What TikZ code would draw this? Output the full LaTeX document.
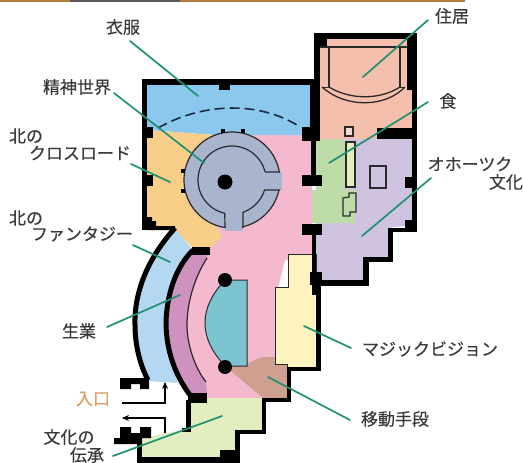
\documentclass[tikz,border=0pt]{standalone}
\usepackage{fontspec}
\setmainfont[FakeBold=0.25]{Noto Sans CJK JP}
\usetikzlibrary{arrows.meta}
\definecolor{cBlue}{HTML}{8BC8EE}
\definecolor{cLight}{HTML}{B5D8F2}
\definecolor{cOrange}{HTML}{F8CE88}
\definecolor{cPink}{HTML}{F4B8CF}
\definecolor{cSalmon}{HTML}{F5BFAE}
\definecolor{cGreen}{HTML}{BEDCA8}
\definecolor{cPurple}{HTML}{CFC3E0}
\definecolor{cYellow}{HTML}{FDF3BE}
\definecolor{cTaupe}{HTML}{CFA090}
\definecolor{cCream}{HTML}{E3EEC0}
\definecolor{cCres}{HTML}{CF92BF}
\definecolor{cTeal}{HTML}{7CC4D0}
\definecolor{cGrey}{HTML}{A9B4CF}
\definecolor{cLead}{HTML}{1F9272}
\definecolor{cInk}{HTML}{2A2A2A}
\definecolor{cText}{HTML}{3A3A3A}
\definecolor{cDash}{HTML}{1B2A40}
\definecolor{cEntry}{HTML}{D9A066}
\definecolor{cStrip}{HTML}{B07A40}
\tikzset{
  wall/.style={fill=black},
  curvewall/.style={draw=black,line width=5pt},
  thinline/.style={draw=cInk,line width=1.2pt},
  leader/.style={draw=cLead,line width=1.7pt,line cap=round},
  lab/.style={inner sep=0pt,text=cText,font=\fontsize{17}{20}\selectfont},
  flow/.style={draw=black,line width=1.3pt,-{Stealth[length=7pt,width=6pt]}}
}
\begin{document}
\begin{tikzpicture}[x=1pt,y=-1pt]
\useasboundingbox (0,0) rectangle (523,463);
\fill[white] (0,0) rectangle (523,463);
% top strip
\fill[cStrip] (0,0) rectangle (70,2);
\fill[gray!70!black] (70,0) rectangle (180,2);
\fill[cStrip] (180,0) rectangle (465,2);
% colour fields
\fill[cPink] (200,135) -- (312,135) -- (312,260) -- (285,260) -- (275,300) -- (275,357) -- (262,398) -- (207,398) -- (207,258) .. controls (193,280) and (187,305) .. (187,325) .. controls (187,345) and (195,368) .. (206,382) -- (207,398) -- (207,258) -- cycle;
\fill[cBlue] (147,84) -- (311,84) -- (311,135) -- (215,135) -- (147,130) -- cycle;
\fill[cOrange] (147,130) -- (215,135) -- (200,200) -- (222,237) -- (210,248) -- (193,248) -- (175,230) -- (147,226) -- cycle;
\fill[cSalmon] (320,39) -- (412,39) -- (412,130) -- (377,130) -- (377,139) -- (320,139) -- cycle;
\fill[cPurple] (316,139) -- (412,139) -- (412,225) -- (388,228) -- (388,257) -- (363,257) -- (363,280) -- (316,280) -- cycle;
\fill[cGreen] (316,139) -- (345,139) -- (345,190) -- (355,190) -- (355,223) -- (312,223) -- (312,190) -- (316,190) -- cycle;
\fill[cLight] (175,229) .. controls (148,258) and (134,292) .. (135,325) .. controls (135,345) and (140,365) .. (148,381) -- (178,383) .. controls (175,375) and (166,350) .. (166,322) .. controls (167,295) and (175,268) .. (193,250) -- cycle;
\fill[cCres] (193,250) .. controls (175,268) and (167,295) .. (166,322) .. controls (166,350) and (175,375) .. (190,393) -- (207,393) -- (206,382) .. controls (195,368) and (187,345) .. (187,325) .. controls (187,305) and (193,280) .. (207,258) -- (207,252) -- cycle;
\fill[cTaupe] (226,367) -- (246,364) -- (262,357) -- (275,357) -- (275,364) -- (287,364) -- (287,400) -- (262,400) -- (262,397) -- cycle;
\fill[cCream] (142,438) -- (182,430) -- (191,430) -- (191,401) -- (207,398) -- (262,398) -- (262,430) -- (237,430) -- (237,457) -- (142,458) -- cycle;
% yellow room
\filldraw[fill=cYellow,draw=cInk,line width=1pt] (288,254) -- (316,254) -- (316,367) -- (287,367) -- (287,364) -- (275,364) -- (275,287) -- (288,287) -- cycle;
% crescent inner line
\draw[thinline] (207,258) .. controls (193,280) and (187,305) .. (187,325) .. controls (187,345) and (195,368) .. (206,382);
% dashed arc
\draw[draw=cDash,line width=1.6pt,dash pattern=on 10pt off 5pt] (158,128) .. controls (200,104) and (255,100) .. (297,125);
% circle hall
\fill[cGrey] (232,180) circle[radius=48];
\fill[cGrey] (225,215) rectangle (243,231);
\fill[cGrey] (262,172) rectangle (282,190);
\draw[thinline] plot[domain=9.7:261.5,samples=60] ({232+48*cos(\x)},{180-48*sin(\x)});
\draw[thinline] plot[domain=-78:-12,samples=30] ({232+48*cos(\x)},{180-48*sin(\x)});
\draw[thinline] (280,172) -- (265,172) plot[domain=14:257.7,samples=60] ({232+34*cos(\x)},{180-34*sin(\x)}) -- (225,228);
\draw[thinline] (243,228) -- (243,212) plot[domain=-70.5:-17,samples=20] ({232+34*cos(\x)},{180-34*sin(\x)}) -- (280,190);
\fill[black] (225,182) circle[radius=7.5];
% little pillars on the hall
\fill[wall] (221,129) rectangle (225,133);
\fill[wall] (241,129) rectangle (245,133);
\fill[wall] (181,169) rectangle (185,173);
\fill[wall] (181,189) rectangle (185,193);
% teal room
\filldraw[fill=cTeal,draw=cInk,line width=1pt] (225,280) -- (247,280) -- (247,366) -- (225,366) .. controls (212,352) and (205,338) .. (205,323) .. controls (205,308) and (212,294) .. (225,280) -- cycle;
\fill[black] (225,280) circle[radius=7];
\fill[black] (225,367) circle[radius=7];
% walls: main hall
\fill[wall] (142,79) rectangle (315,85);
\fill[wall] (142,79) rectangle (147,230);
\fill[wall] (219,85) rectangle (230,90);
\fill[wall] (147,127) rectangle (153,138);
\fill[wall] (147,175) rectangle (153,186);
\fill[wall] (147,217) -- (152,217) -- (152,221) -- (156,221) -- (156,226) -- (175,226) -- (175,230) -- (147,230) -- cycle;
% walls: north-east block
\fill[wall] (314,33) rectangle (417,39);
\fill[wall] (314,33) rectangle (327,47);
\fill[wall] (314,33) rectangle (320,130);
\fill[wall] (310,80) rectangle (320,130);
\fill[wall] (302,127) rectangle (320,141);
\fill[wall] (311,135) rectangle (316,180);
\fill[wall] (302,175) rectangle (322,186);
\fill[wall] (407,33) rectangle (417,90);
\fill[wall] (412,33) rectangle (417,232);
\fill[wall] (377,128) rectangle (417,139);
\fill[wall] (405,177) rectangle (413,188);
\fill[wall] (405,220) rectangle (417,232);
\fill[wall] (388,228) rectangle (417,232);
\fill[wall] (388,228) rectangle (393,262);
\fill[wall] (363,257) rectangle (393,262);
\fill[wall] (363,257) rectangle (369,286);
\fill[wall] (312,280) rectangle (369,286);
\fill[wall] (302,224) rectangle (322,235);
\fill[wall] (312,224) rectangle (316,295);
\fill[wall] (310,272) rectangle (322,285);
% walls: yellow and cream rooms
\fill[wall] (316,285) rectangle (321,371);
\fill[wall] (287,367) rectangle (321,371);
\fill[wall] (287,367) rectangle (291,402);
\fill[wall] (262,398) rectangle (291,402);
\fill[wall] (262,398) rectangle (266,434);
\fill[wall] (235,430) rectangle (266,434);
\fill[wall] (235,430) rectangle (240,457);
\fill[wall] (220,450) rectangle (240,457);
\fill[wall] (137,457) rectangle (240,463);
\fill[wall] (137,438) rectangle (142,463);
\fill[wall] (188,393) rectangle (207,403);
\fill[wall] (186,400) rectangle (191,432);
\fill[wall] (182,428) rectangle (191,432);
% walls: curved west side
\draw[curvewall] (175,228) .. controls (148,258) and (134,292) .. (135,325) .. controls (135,345) and (140,365) .. (148,380);
\draw[curvewall] (193,250) .. controls (175,268) and (167,295) .. (166,322) .. controls (166,350) and (175,375) .. (190,395);
\fill[wall] (192,247) rectangle (210,255);
% entrance blocks
\fill[wall] (120,378) -- (149,378) -- (149,389) -- (140,389) -- (140,384) -- (131,384) -- (131,389) -- (120,389) -- cycle;
\fill[wall] (120,427) -- (131,427) -- (131,433) -- (140,433) -- (140,427) -- (151,427) -- (151,438) -- (142,438) -- (142,444) -- (114,444) -- (114,438) -- (120,438) -- cycle;
% entrance flow arrows
\coordinate (inA) at (122,403);
\coordinate (inB) at (165,403);
\coordinate (inC) at (165,382);
\coordinate (outA) at (165,433);
\coordinate (outB) at (165,418);
\coordinate (outC) at (122,418);
\draw[flow] (inA) -- (inB) -- (inC);
\draw[flow] (outA) -- (outB) -- (outC);
% inner outlines in the north-east block
\draw[thinline,line width=1.3pt] (320,47) -- (407,47);
\draw[thinline,line width=1.3pt] (329,47) -- (329,87);
\draw[thinline,line width=1.3pt] (400,47) -- (400,87);
\draw[thinline,line width=1.3pt] (322,87) .. controls (345,108) and (385,108) .. (405,87);
\draw[thinline,line width=1.3pt] (329,87) .. controls (350,100) and (380,100) .. (400,87);
\draw[thinline,line width=1pt] (322,87) -- (329,87) (400,87) -- (405,87);
\draw[thinline,fill=cSalmon!60!white] (345,127) rectangle (353,136);
\draw[thinline,fill=cCream] (346,142) rectangle (355,187);
\draw[thinline] (370,166) rectangle (386,188);
\draw[thinline] (343,198) -- (349,197) -- (349,193) -- (356,193) -- (356,212) -- (350,212) -- (350,216) -- (343,216) -- cycle;
% labels
\node[lab] (fuku) at (123,27) {衣服};
\node[lab] (seishin) at (77,87) {精神世界};
\node[lab] (kita1) at (26,136) {北の};
\node[lab] (cross) at (80,153) {クロスロード};
\node[lab] (kita2) at (26,218) {北の};
\node[lab] (fantasy) at (82,234) {ファンタジー};
\node[lab] (seigyo) at (79,331) {生業};
\node[lab,text=cEntry] (iriguchi) at (93,399) {入口};
\node[lab] (bunkano) at (69,437) {文化の};
\node[lab] (densho) at (87,455) {伝承};
\node[lab] (jukyo) at (452,16) {住居};
\node[lab] (shoku) at (448,101) {食};
\node[lab] (okhotsk) at (470,164) {オホーツク};
\node[lab] (bunka) at (506,182) {文化};
\node[lab] (magic) at (430,349) {マジックビジョン};
\node[lab] (idou) at (395,419) {移動手段};
% leader ends
\coordinate (e1a) at (130,41);  \coordinate (e1b) at (198,96);
\coordinate (e2a) at (114,93);  \coordinate (e2b) at (204,163);
\coordinate (e3a) at (131,164); \coordinate (e3b) at (170,182);
\coordinate (e4a) at (133,245); \coordinate (e4b) at (170,262);
\coordinate (e5a) at (107,327); \coordinate (e5b) at (180,295);
\coordinate (e6a) at (113,456); \coordinate (e6b) at (222,416);
\coordinate (e7a) at (428,20);  \coordinate (e7b) at (363,77);
\coordinate (e8a) at (428,102); \coordinate (e8b) at (329,163);
\coordinate (e9a) at (431,178); \coordinate (e9b) at (362,236);
\coordinate (e10a) at (351,348);\coordinate (e10b) at (304,326);
\coordinate (e11a) at (350,420);\coordinate (e11b) at (268,377);
\foreach \n in {1,...,11} {\draw[leader] (e\n a) -- (e\n b);}
\end{tikzpicture}
\end{document}
